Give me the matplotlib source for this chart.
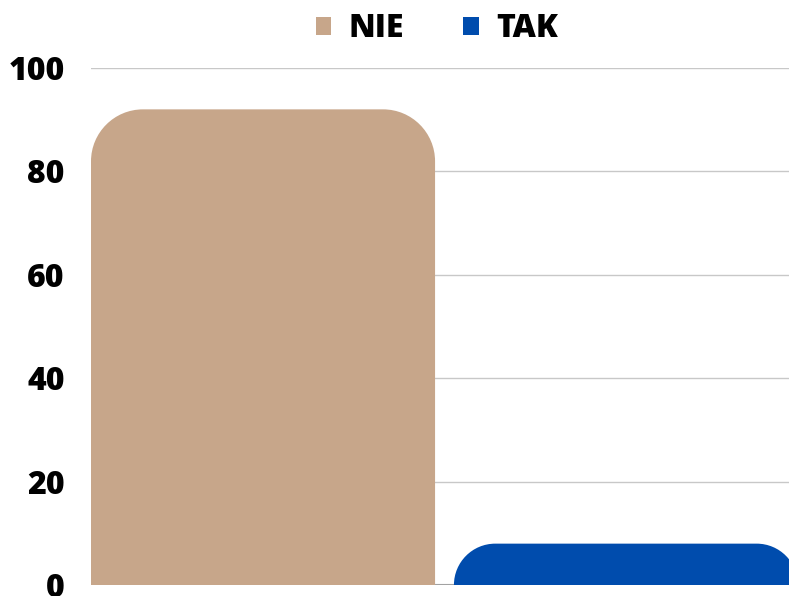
import numpy as np
import matplotlib.pyplot as plt
from matplotlib.path import Path
from matplotlib.patches import PathPatch, Patch

plt.rcParams['font.family'] = ['Open Sans', 'DejaVu Sans']

series = ['NIE', 'TAK']
values = [92, 8]
colors = ['#C7A68A', '#004CAD']
yticks = [0, 20, 40, 60, 80, 100]


def rounded_bar(x0, w, h, rx, ry):
    # rectangle with the two top corners rounded (elliptical in data units)
    k = 0.5523
    verts = [(x0, 0), (x0, h - ry),
             (x0, h - ry + k * ry), (x0 + rx - k * rx, h), (x0 + rx, h),
             (x0 + w - rx, h),
             (x0 + w - rx + k * rx, h), (x0 + w, h - ry + k * ry), (x0 + w, h - ry),
             (x0 + w, 0), (x0, 0)]
    codes = [Path.MOVETO, Path.LINETO,
             Path.CURVE4, Path.CURVE4, Path.CURVE4,
             Path.LINETO,
             Path.CURVE4, Path.CURVE4, Path.CURVE4,
             Path.LINETO, Path.CLOSEPOLY]
    return Path(verts, codes)


fig = plt.figure(figsize=(7.89, 5.96), dpi=100)
ax = fig.add_axes([91 / 789, 11 / 596, 707 / 789, 517 / 596])

width = 0.948
pos = np.arange(len(values))
ax.set_xlim(-width / 2, len(values) - 1 + width / 2)
ax.set_ylim(0, 100)

# pixels per data unit
px_x = 707 / (ax.get_xlim()[1] - ax.get_xlim()[0])
px_y = 517 / 100.0

for p, v, c in zip(pos, values, colors):
    r_px = min(52, v * px_y)
    path = rounded_bar(p - width / 2, width, v, r_px / px_x, r_px / px_y)
    ax.add_patch(PathPatch(path, facecolor=c, edgecolor='none', zorder=2))

ax.set_yticks(yticks)
ax.set_yticklabels([str(t) for t in yticks], fontsize=23, fontweight=800)
ax.tick_params(axis='y', length=0, pad=19)
ax.set_xticks([])
ax.grid(axis='y', color='#c8c8c8', linewidth=1, zorder=0)
ax.axhline(0, color='#999999', linewidth=1.5, zorder=1)
for s in ax.spines.values():
    s.set_visible(False)

handles = [Patch(facecolor=c, edgecolor='none') for c in colors]
fig.legend(handles, series, loc='center', bbox_to_anchor=(437 / 789, 1 - 29 / 596),
           ncol=2, frameon=False, prop={'size': 23, 'weight': 800},
           handlelength=0.48, handleheight=0.48, handletextpad=0.55, columnspacing=1.85)

fig.savefig('out.png', dpi=100)
